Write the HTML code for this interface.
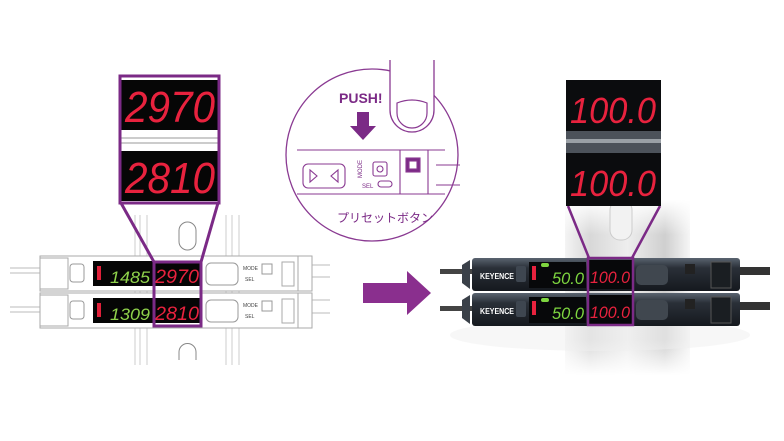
<!DOCTYPE html>
<html><head><meta charset="utf-8"><style>
html,body{margin:0;padding:0;background:#fff;}
svg{display:block;}
text{font-family:"Liberation Sans","Noto Sans CJK JP",sans-serif;}
.dig{font-family:"Liberation Sans",sans-serif;font-style:italic;}
</style></head><body>
<svg width="784" height="441" viewBox="0 0 784 441" xmlns="http://www.w3.org/2000/svg">
<defs>
<linearGradient id="rail" x1="0" x2="1" y1="0" y2="0">
<stop offset="0" stop-color="#f4f4f4"/><stop offset="0.2" stop-color="#d8d8d8"/><stop offset="0.5" stop-color="#eee"/><stop offset="0.8" stop-color="#cfcfcf"/><stop offset="1" stop-color="#f6f6f6"/>
</linearGradient>
<linearGradient id="railv" x1="0" x2="0" y1="0" y2="1">
<stop offset="0" stop-color="#fff" stop-opacity="1"/><stop offset="0.2" stop-color="#fff" stop-opacity="0"/><stop offset="0.8" stop-color="#fff" stop-opacity="0"/><stop offset="1" stop-color="#fff" stop-opacity="1"/>
</linearGradient>
<linearGradient id="body" x1="0" x2="0" y1="0" y2="1">
<stop offset="0" stop-color="#5a6470"/><stop offset="0.3" stop-color="#2a3038"/><stop offset="1" stop-color="#15191e"/>
</linearGradient>
</defs>

<!-- LEFT rail -->
<g stroke="#ccc" stroke-width="1" fill="none">
<line x1="135" y1="215" x2="135" y2="365"/><line x1="140" y1="215" x2="140" y2="365"/><line x1="147" y1="215" x2="147" y2="365"/>
<line x1="226" y1="215" x2="226" y2="365"/><line x1="232" y1="215" x2="232" y2="365"/><line x1="239" y1="215" x2="239" y2="365"/>
<rect x="179" y="222" width="17" height="28" rx="8.5" stroke="#888"/>
<path d="M179 360 v-8 a8.5 8.5 0 0 1 17 0 v8" stroke="#888"/>
</g>
<g stroke="#bbb" stroke-width="1"><line x1="10" y1="268" x2="42" y2="268"/><line x1="10" y1="273" x2="42" y2="273"/><line x1="10" y1="307" x2="42" y2="307"/><line x1="10" y1="312" x2="42" y2="312"/>
<line x1="300" y1="265" x2="330" y2="265"/><line x1="300" y1="277" x2="330" y2="277"/><line x1="300" y1="300" x2="330" y2="300"/><line x1="300" y1="313" x2="330" y2="313"/></g>
<g>
<g id="ls1">
<rect x="40" y="256" width="272" height="35" fill="#fff" stroke="#aaa"/>
<rect x="40" y="258" width="28" height="31" fill="#fff" stroke="#aaa"/>
<rect x="70" y="264" width="14" height="18" rx="3" fill="#fff" stroke="#999"/>
<rect x="93" y="261" width="108" height="25" fill="#050505"/>
<rect x="97" y="266" width="4" height="14" fill="#e0203a"/>
<rect x="206" y="263" width="32" height="22" rx="5" fill="#fff" stroke="#999"/>
<rect x="262" y="264" width="10" height="10" fill="#fff" stroke="#999"/>
<rect x="282" y="262" width="12" height="24" fill="#fff" stroke="#aaa"/>
<line x1="298" y1="256" x2="298" y2="291" stroke="#aaa"/>
</g>
<use href="#ls1" y="37"/>
<text x="110" y="283" class="dig" font-size="17" fill="#8fd24b" textLength="40" lengthAdjust="spacingAndGlyphs">1485</text>
<text x="110" y="320" class="dig" font-size="17" fill="#8fd24b" textLength="40" lengthAdjust="spacingAndGlyphs">1309</text>
<text x="155" y="283" class="dig" font-size="19" fill="#e8223e" textLength="44" lengthAdjust="spacingAndGlyphs">2970</text>
<text x="155" y="320" class="dig" font-size="19" fill="#e8223e" textLength="44" lengthAdjust="spacingAndGlyphs">2810</text>
<text x="243" y="270" font-size="5" fill="#444">MODE</text>
<text x="243" y="307" font-size="5" fill="#444">MODE</text>
<text x="245" y="281" font-size="5" fill="#444">SEL</text>
<text x="245" y="318" font-size="5" fill="#444">SEL</text>
</g>
<g stroke="#7b2a86" stroke-width="3" fill="none">
<line x1="121" y1="203" x2="154" y2="262"/><line x1="218" y1="203" x2="201" y2="262"/>
<rect x="154" y="262" width="47" height="64"/>
</g>
<rect x="120" y="76" width="99" height="127" fill="#fff"/>
<rect x="121" y="80" width="97" height="50" fill="#060606"/>
<line x1="121" y1="138" x2="218" y2="138" stroke="#999"/><line x1="121" y1="143" x2="218" y2="143" stroke="#999"/>
<rect x="121" y="151" width="97" height="50" fill="#060606"/>
<text x="125" y="122" class="dig" font-size="44" fill="#e8223e" textLength="90" lengthAdjust="spacingAndGlyphs">2970</text>
<text x="125" y="193" class="dig" font-size="44" fill="#e8223e" textLength="90" lengthAdjust="spacingAndGlyphs">2810</text>
<rect x="120" y="76" width="99" height="127" fill="none" stroke="#7b2a86" stroke-width="3"/>

<!-- middle circle -->
<circle cx="372" cy="155" r="86" fill="#fff" stroke="#8a3a92" stroke-width="1.3"/>
<path d="M390 60 V110 a22 22 0 0 0 44 0 V60" fill="#fff" stroke="#8a3a92" stroke-width="1.3"/>
<path d="M397 103 q15 -6 30 0 v10 a15 15 0 0 1 -30 0z" fill="none" stroke="#8a3a92" stroke-width="1.2"/>
<text x="339" y="103" font-size="14" fill="#7b2a86" font-weight="bold">PUSH!</text>
<path d="M357 112 h12 v14 h7 l-13 14 l-13 -14 h7z" fill="#7b2a86"/>
<g stroke="#8a3a92" stroke-width="1.1" fill="none">
<line x1="297" y1="150" x2="445" y2="150"/><line x1="297" y1="194" x2="445" y2="194"/>
<rect x="303" y="164" width="42" height="24" rx="5"/>
<path d="M310 170 v12 l7 -6z M338 170 v12 l-7 -6z"/>
<rect x="373" y="162" width="14" height="14" rx="2"/><circle cx="380" cy="169" r="3"/>
<rect x="378" y="181" width="14" height="6" rx="3"/>
<rect x="406" y="158" width="14" height="14" fill="#7b2a86"/>
<rect x="409" y="161" width="8" height="8" fill="#fff"/>
<line x1="400" y1="150" x2="400" y2="194"/><line x1="428" y1="150" x2="428" y2="194"/>
<path d="M436 165 H460 M436 185 H460"/>
</g>
<text x="350" y="174" font-size="6" fill="#7b2a86" transform="rotate(-90 358 170)">MODE</text>
<text x="362" y="188" font-size="6" fill="#7b2a86">SEL</text>
<text x="337" y="222" font-size="12" fill="#7b2a86" font-family="'Noto Sans CJK JP',sans-serif">プリセットボタン</text>

<path d="M363 283 h44 v-12 l24 22 l-24 22 v-12 h-44z" fill="#8a2f8e"/>

<!-- RIGHT rail -->
<rect x="565" y="200" width="125" height="175" fill="url(#rail)"/>
<rect x="565" y="200" width="125" height="175" fill="url(#railv)"/>
<rect x="610" y="200" width="22" height="40" rx="10" fill="#f2f2f2" stroke="#ccc"/>
<ellipse cx="600" cy="335" rx="150" ry="16" fill="#f0f0f0" opacity="0.5"/>
<rect x="440" y="269" width="40" height="5" fill="#444"/><rect x="440" y="306" width="40" height="5" fill="#444"/>
<rect x="735" y="267" width="35" height="8" fill="#333"/><rect x="735" y="302" width="35" height="8" fill="#333"/>
<g id="rs1">
<rect x="472" y="258" width="268" height="33" rx="3" fill="url(#body)"/>
<path d="M470 260 l-8 5 v18 l8 6z" fill="#3a4048"/>
<text x="480" y="279" font-size="8" fill="#fff" font-weight="bold" textLength="34" lengthAdjust="spacingAndGlyphs">KEYENCE</text>
<rect x="516" y="266" width="10" height="16" rx="2" fill="#3e4650"/>
<rect x="529" y="262" width="57" height="26" fill="#07080a"/>
<rect x="532" y="266" width="4" height="14" fill="#e8223e"/>
<rect x="541" y="263" width="8" height="4" rx="2" fill="#7ed640"/>
<rect x="636" y="265" width="32" height="20" rx="5" fill="#40474f"/>
<rect x="685" y="264" width="10" height="10" fill="#222"/>
<rect x="711" y="262" width="20" height="26" fill="#1a1e22" stroke="#555"/>
</g>
<use href="#rs1" y="35"/>
<text x="552" y="284" class="dig" font-size="17" fill="#7ed640" textLength="32" lengthAdjust="spacingAndGlyphs">50.0</text>
<text x="552" y="319" class="dig" font-size="17" fill="#7ed640" textLength="32" lengthAdjust="spacingAndGlyphs">50.0</text>
<rect x="588" y="260" width="45" height="29" fill="#07080a"/>
<rect x="588" y="295" width="45" height="29" fill="#07080a"/>
<text x="590" y="283" class="dig" font-size="17" fill="#e8223e" textLength="40" lengthAdjust="spacingAndGlyphs">100.0</text>
<text x="590" y="318" class="dig" font-size="17" fill="#e8223e" textLength="40" lengthAdjust="spacingAndGlyphs">100.0</text>
<g stroke="#7b2a86" stroke-width="2.5" fill="none">
<line x1="568" y1="206" x2="589" y2="258"/><line x1="660" y1="206" x2="632" y2="258"/>
<rect x="588" y="258" width="45" height="67"/>
</g>
<rect x="566" y="80" width="95" height="126" fill="#0b0c0e"/>
<rect x="566" y="131" width="95" height="22" fill="#4c525a"/>
<rect x="566" y="139" width="95" height="4" fill="#9aa0a6"/>
<text x="570" y="123" class="dig" font-size="36" fill="#e8223e" textLength="86" lengthAdjust="spacingAndGlyphs">100.0</text>
<text x="570" y="196" class="dig" font-size="36" fill="#e8223e" textLength="86" lengthAdjust="spacingAndGlyphs">100.0</text>
</svg>
</body></html>
